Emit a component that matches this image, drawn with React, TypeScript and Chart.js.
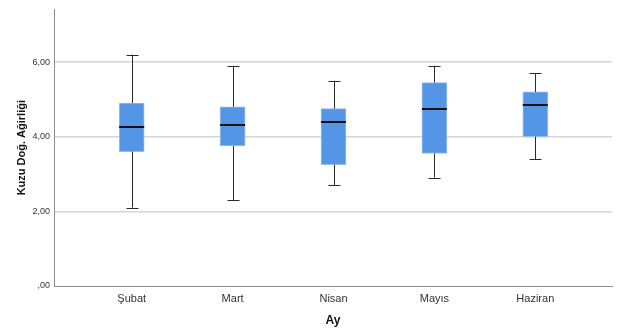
import React, { useEffect, useRef } from "react";
import { Chart, registerables } from "chart.js";

Chart.register(...registerables);

// Months on the x axis
const months = ["Şubat", "Mart", "Nisan", "Mayıs", "Haziran"];

// Five-number summaries of lamb birth weight per month
const whiskerLow = [2.1, 2.3, 2.7, 2.9, 3.4];
const quartile1 = [3.6, 3.75, 3.25, 3.55, 4.0];
const medians = [4.25, 4.3, 4.4, 4.75, 4.85];
const quartile3 = [4.9, 4.8, 4.75, 5.45, 5.2];
const whiskerHigh = [6.2, 5.9, 5.5, 5.9, 5.7];

const yTickValues = [0, 2, 4, 6];

const fmt = (v: number) => (v === 0 ? ",00" : v.toFixed(2).replace(".", ","));

// Draws whiskers, caps and median lines on top of the floating-bar boxes
const boxPlotPlugin = {
  id: "boxWhiskers",
  afterDatasetsDraw(chart: any) {
    const { ctx, scales } = chart;
    const xs = scales.x;
    const ys = scales.y;
    const meta = chart.getDatasetMeta(0);
    ctx.save();
    months.forEach((_, i) => {
      const bar = meta.data[i];
      const cx = xs.getPixelForValue(i);
      const half = bar ? bar.width / 2 : 12.5;
      const yLow = ys.getPixelForValue(whiskerLow[i]);
      const yHigh = ys.getPixelForValue(whiskerHigh[i]);
      const yQ1 = ys.getPixelForValue(quartile1[i]);
      const yQ3 = ys.getPixelForValue(quartile3[i]);
      const yMed = ys.getPixelForValue(medians[i]);
      const px = Math.round(cx) + 0.5;

      ctx.strokeStyle = "#2b2b2b";
      ctx.lineWidth = 1;
      ctx.beginPath();
      ctx.moveTo(px, yQ3);
      ctx.lineTo(px, yHigh);
      ctx.moveTo(px, yQ1);
      ctx.lineTo(px, yLow);
      ctx.moveTo(px - 6, Math.round(yHigh) + 0.5);
      ctx.lineTo(px + 6, Math.round(yHigh) + 0.5);
      ctx.moveTo(px - 6, Math.round(yLow) + 0.5);
      ctx.lineTo(px + 6, Math.round(yLow) + 0.5);
      ctx.stroke();

      ctx.strokeStyle = "#111111";
      ctx.lineWidth = 2;
      ctx.beginPath();
      ctx.moveTo(cx - half, Math.round(yMed));
      ctx.lineTo(cx + half, Math.round(yMed));
      ctx.stroke();
    });
    ctx.restore();
  },
};

export default function App() {
  const canvasRef = useRef<HTMLCanvasElement | null>(null);

  useEffect(() => {
    document.body.style.margin = "0";
    const canvas = canvasRef.current;
    if (!canvas) return;

    const chart = new Chart(canvas, {
      type: "bar",
      data: {
        datasets: [
          {
            data: months.map((_, i) => ({ x: i, y: [quartile1[i], quartile3[i]] })) as any,
            backgroundColor: "#5595e6",
            borderColor: "#93bcf0",
            borderWidth: 1,
            borderSkipped: false,
            barThickness: 25,
          },
        ],
      },
      options: {
        responsive: false,
        animation: false,
        events: [],
        layout: { padding: { top: 8, right: 5, left: 0, bottom: 0 } },
        plugins: {
          legend: { display: false },
          tooltip: { enabled: false },
        },
        scales: {
          x: {
            type: "linear",
            offset: false,
            min: -0.77,
            max: 4.76,
            afterBuildTicks: (scale: any) => {
              scale.ticks = months.map((_, i) => ({ value: i }));
            },
            afterFit: (scale: any) => {
              scale.height = 50;
            },
            grid: { display: false, drawTicks: false, offset: false },
            border: { display: true, color: "#8c8c8c", width: 1 },
            ticks: {
              padding: 6,
              autoSkip: false,
              maxRotation: 0,
              color: "#333333",
              font: { family: "'Liberation Sans', Arial, sans-serif", size: 11 },
              callback: (v: any) => months[v] ?? "",
            },
            title: {
              display: true,
              text: "Ay",
              color: "#111111",
              padding: { top: 0, bottom: 8 },
              font: { family: "'Liberation Sans', Arial, sans-serif", size: 12, weight: "bold" },
            },
          },
          y: {
            type: "linear",
            min: 0,
            max: 7.41,
            afterBuildTicks: (scale: any) => {
              scale.ticks = yTickValues.map((v) => ({ value: v }));
            },
            afterFit: (scale: any) => {
              scale.width = 54;
            },
            grid: {
              drawTicks: false,
              color: (c: any) => (c.tick && c.tick.value === 0 ? "rgba(0,0,0,0)" : "#d6d6d6"),
              lineWidth: 1.5,
            },
            border: { display: true, color: "#8c8c8c", width: 1 },
            ticks: {
              padding: 4,
              color: "#333333",
              font: { family: "'Liberation Sans', Arial, sans-serif", size: 9 },
              callback: (v: any) => fmt(Number(v)),
            },
            title: {
              display: true,
              text: "Kuzu Doğ. Ağirliği",
              color: "#111111",
              padding: { top: 15, bottom: 0 },
              font: { family: "'Liberation Sans', Arial, sans-serif", size: 11, weight: "bold" },
            },
          },
        },
      },
      plugins: [boxPlotPlugin],
    } as any);

    return () => chart.destroy();
  }, []);

  return (
    <div style={{ width: 617, height: 336, background: "#ffffff" }}>
      <canvas ref={canvasRef} width={617} height={336} />
    </div>
  );
}
